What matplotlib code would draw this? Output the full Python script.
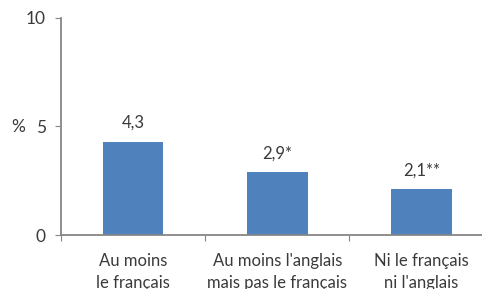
import matplotlib
matplotlib.use("Agg")
import matplotlib.pyplot as plt

categories = ["Au moins\nle français", "Au moins l'anglais\nmais pas le français", "Ni le français\nni l'anglais"]
values = [4.3, 2.9, 2.1]
value_labels = ["4,3", "2,9*", "2,1**"]
yticks = [0, 5, 10]

plt.rcParams['font.family'] = ['Lato', 'DejaVu Sans']
txt = '#3a3a3a'
axc = '#868686'

fig = plt.figure(figsize=(4.82, 2.89), dpi=100)
ax = fig.add_axes([61/482, 1-235/289, 1-61/482, 217/289])

x = list(range(len(categories)))
ax.bar(x, values, width=0.42, color='#4F81BD', zorder=2)
for xi, v, lab in zip(x, values, value_labels):
    ax.text(xi, v + 0.5, lab, ha='center', va='bottom', fontsize=12, color=txt)

ax.set_xlim(-0.5, 2.42)
ax.set_ylim(0, 10)
ax.set_yticks(yticks)
ax.set_yticklabels([str(t) for t in yticks], fontsize=12.5, color=txt)
ax.set_xticks([-0.5, 0.5, 1.5])
ax.set_xticklabels([])
ax.set_xticks(x, minor=True)
ax.set_xticklabels(categories, minor=True, fontsize=12, color=txt, linespacing=1.42)
ax.tick_params(axis='x', which='minor', length=0, pad=13)
ax.tick_params(axis='x', which='major', length=4, color=axc, direction='out')
ax.tick_params(axis='y', length=4, color=axc, direction='out', pad=7)

for s in ['top', 'right']:
    ax.spines[s].set_visible(False)
for s in ['left', 'bottom']:
    ax.spines[s].set_color(axc)
    ax.spines[s].set_linewidth(1.3)

ax.text(-0.5 - 36/144, 5, '%', ha='right', va='center', fontsize=12.5, color=txt)

fig.savefig('out.png', dpi=100)
